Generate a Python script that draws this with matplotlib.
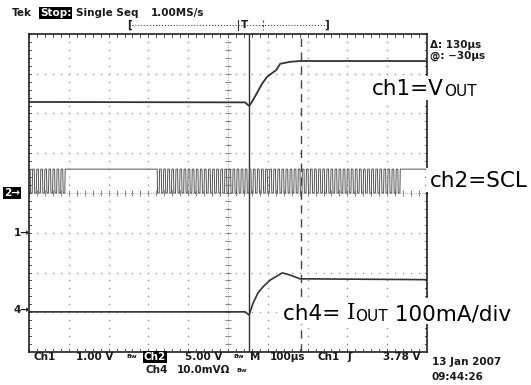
import numpy as np
import matplotlib.pyplot as plt
from matplotlib.patches import Rectangle

# Scope screen in divisions: 10 div wide, 8 div high (100us/div)
# ch1 = VOUT (1.00 V/div, ground marker at 3 div)
ch1_x = [0.0, 5.43, 5.53, 5.60, 5.73, 5.85, 5.98, 6.11, 6.21, 6.31, 6.56, 6.81, 10.0]
ch1_y = [6.29, 6.28, 6.19, 6.29, 6.52, 6.74, 6.92, 7.02, 7.09, 7.25, 7.30, 7.32, 7.32]

# ch4 = IOUT (100mA/div, ground marker at ~1 div)
ch4_x = [0.0, 5.43, 5.53, 5.63, 5.75, 5.88, 6.06, 6.23, 6.36, 6.48, 6.63, 6.81, 6.99, 10.0]
ch4_y = [1.01, 1.01, 0.93, 1.23, 1.48, 1.64, 1.81, 1.91, 1.99, 1.96, 1.91, 1.84, 1.84, 1.82]

# ch2 = SCL (5.00 V/div), clock bursts: (start div, end div, number of clocks)
scl_low = 4.0
scl_high = 4.6
scl_bursts = [(0.03, 0.95, 9), (3.22, 9.37, 60)]

cursors = [5.53, 6.83]   # solid / dashed time cursors

W, H = 531, 385
fig = plt.figure(figsize=(W / 100, H / 100), dpi=100)
fig.patch.set_facecolor('white')

# main graticule axes
ax = fig.add_axes([29 / W, 33 / H, 398 / W, 318 / H])
ax.set_xlim(0, 10)
ax.set_ylim(0, 8)
ax.set_xticks([])
ax.set_yticks([])
for s in ax.spines.values():
    s.set_linewidth(1.2)
    s.set_color('#222222')

gcol = '#8a8a8a'
xs = np.arange(0, 10.01, 0.2)
ys = np.arange(0, 8.01, 0.2)
# dotted division lines
for i in range(1, 10):
    if i != 5:
        ax.plot([i] * len(ys), ys, ls='none', marker='s', ms=0.9, color=gcol, mew=0)
for j in range(1, 8):
    if j != 4:
        ax.plot(xs, [j] * len(xs), ls='none', marker='s', ms=0.9, color=gcol, mew=0)
# center cross with minor ticks
ax.plot([5] * len(ys), ys, ls='none', marker='_', ms=4, color=gcol, mew=0.8)
ax.plot(xs, [4] * len(xs), ls='none', marker='|', ms=4, color=gcol, mew=0.8)
ax.plot([5, 5], [0, 8], ls=':', lw=0.6, color=gcol)
ax.plot([0, 10], [4, 4], ls=':', lw=0.6, color=gcol)
# border ticks
for x in xs:
    ax.plot([x, x], [8, 7.92], color='#555555', lw=0.7)
    ax.plot([x, x], [0, 0.08], color='#555555', lw=0.7)
for y in ys:
    ax.plot([0, 0.06], [y, y], color='#555555', lw=0.7)
    ax.plot([10, 9.94], [y, y], color='#555555', lw=0.7)

# cursors
ax.axvline(cursors[0], color='#333333', lw=1.0)
ax.axvline(cursors[1], color='#444444', lw=1.0, dashes=(6, 4))

# ch2 clock built from the bursts
sx, sy = [0.0], [scl_high]
for start, end, n in scl_bursts:
    per = (end - start) / n
    for k in range(n):
        t0 = start + k * per
        sx += [t0, t0 + per * 0.1, t0 + per / 2, t0 + per * 0.6]
        sy += [scl_high, scl_low, scl_low, scl_high]
sx.append(10.0)
sy.append(scl_high)
ax.plot(sx, sy, color='#555555', lw=0.7)

ax.plot(ch1_x, ch1_y, color='#333333', lw=1.3)
ax.plot(ch4_x, ch4_y, color='#333333', lw=1.2)

# overlay in pixel coordinates for the scope annotations
ov = fig.add_axes([0, 0, 1, 1], zorder=5)
ov.set_xlim(0, W)
ov.set_ylim(H, 0)
ov.axis('off')

tek = dict(fontsize=7.5, fontweight='bold', color='#1a1a1a', va='center', ha='left')
inv = dict(boxstyle='square,pad=0.1', fc='black', ec='none')

ov.text(12, 13, 'Tek', **tek)
ov.text(40, 13, 'Stop:', bbox=inv, **{**tek, 'color': 'white'})
ov.text(76, 13, 'Single Seq', **tek)
ov.text(151, 13, '1.00MS/s', **tek)

# record bracket and trigger position
ov.plot([129, 327], [25, 25], ls=':', lw=0.8, color='#444444')
ov.text(127, 25, '[', **tek)
ov.text(324, 25, ']', **tek)
ov.plot([238, 238], [20, 30], color='#333333', lw=0.8)
ov.text(241, 25, 'T', **tek)
ov.plot([263, 263], [20, 30], color='#444444', lw=0.8, dashes=(2, 2))

ov.text(430, 45, 'Δ: 130µs', **tek)
ov.text(430, 56, '@: −30µs', **tek)

# channel ground markers
ov.text(4, 193, '2→', bbox=inv, **{**tek, 'color': 'white'})
ov.text(14, 233, '1→', **tek)
ov.text(14, 310, '4→', **tek)

# bottom readouts
ov.text(33, 357, 'Ch1', **tek)
ov.text(76, 357, '1.00 V', **tek)
ov.text(126, 357, 'Bw', **{**tek, 'fontsize': 4.5})
ov.text(144, 357, 'Ch2', bbox=inv, **{**tek, 'color': 'white'})
ov.text(185, 357, '5.00 V', **tek)
ov.text(233, 357, 'Bw', **{**tek, 'fontsize': 4.5})
ov.text(250, 357, 'M', **tek)
ov.text(270, 357, '100µs', **tek)
ov.text(318, 357, 'Ch1', **tek)
ov.text(347, 357, 'ʃ', **tek)
ov.text(383, 357, '3.78 V', **tek)
ov.text(145, 370, 'Ch4', **tek)
ov.text(177, 370, '10.0mVΩ', **tek)
ov.text(236, 370, 'Bw', **{**tek, 'fontsize': 4.5})
ov.text(432, 362, '13 Jan 2007', **tek)
ov.text(432, 377, '09:44:26', **tek)

# big channel labels on white boxes
for (x0, y0, w, h) in [(368, 76, 114, 24), (426, 168, 105, 24), (279, 298, 248, 26)]:
    ov.add_patch(Rectangle((x0, y0), w, h, fc='white', ec='none', zorder=2))

big = dict(fontsize=15.5, color='black', va='baseline', ha='left', zorder=3)
small = dict(fontsize=11, color='black', va='baseline', ha='left', zorder=3)


def chain(x, y, parts):
    prev = None
    for s, kw in parts:
        if prev is None:
            prev = ov.text(x, y, s, **kw)
        else:
            prev = ov.annotate(s, xy=(1, 0), xycoords=prev, textcoords='offset points',
                               xytext=(0, 0), **{**kw, 'va': 'bottom'})
    return prev


chain(372, 95, [('ch1=V', big), ('OUT', small)])
ov.text(430, 187, 'ch2=SCL', **big)
chain(283, 320, [('ch4= ', big), ('I', {**big, 'family': 'DejaVu Serif'}),
                 ('OUT', small), (' 100mA/div', big)])

fig.savefig('out.png', dpi=100)
